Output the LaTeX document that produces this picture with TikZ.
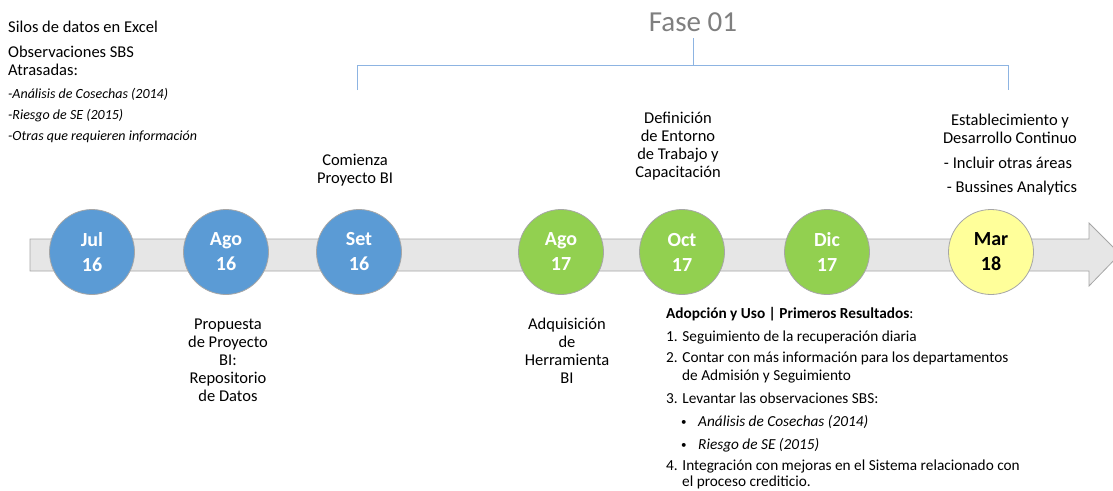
\documentclass[tikz,border=0pt]{standalone}
\usepackage{fontspec}
\setmainfont{Carlito}
\usepackage{xcolor}

\definecolor{blueC}{HTML}{5B9BD5}
\definecolor{greenC}{HTML}{92D050}
\definecolor{yellowC}{HTML}{FFFF9A}
\definecolor{bandC}{HTML}{E6E6E6}
\definecolor{lineC}{HTML}{A6A6A6}
\definecolor{phaseC}{HTML}{7F7F7F}
\definecolor{braceC}{HTML}{8DB4E2}

\tikzset{
    datecirc/.style={circle, draw=lineC, line width=0.8pt, minimum size=85pt,
        inner sep=0pt, align=center, font=\fontsize{20}{25}\selectfont\bfseries, text=white},
    lbl/.style={align=center, inner sep=0pt, font=\fontsize{16.5}{18}\selectfont},
    txt/.style={anchor=base west, inner sep=0pt, font=\fontsize{16.5}{18}\selectfont},
    sub/.style={anchor=base west, inner sep=0pt, font=\fontsize{14}{16}\selectfont\itshape},
    lst/.style={anchor=base west, inner sep=0pt, font=\fontsize{15.3}{17}\selectfont},
    dot/.style={anchor=base west, inner sep=0pt, font=\fontsize{11}{17}\selectfont},
    bracket/.style={draw=braceC, line width=0.9pt}
}

\begin{document}
\begin{tikzpicture}[x=1pt, y=-1pt]
    \useasboundingbox (0,0) rectangle (1113,490);

    % Timeline band
    \draw[fill=bandC, draw=lineC, line width=0.8pt]
        (30,239) -- (1089,239) -- (1089,223) -- (1120,254)
        -- (1089,286) -- (1089,271) -- (30,271) -- cycle;

    % Dates
    \node[datecirc, fill=blueC] (jul16) at (92,252) {Jul\\16};
    \node[datecirc, fill=blueC] (ago16) at (226,252) {Ago\\16};
    \node[datecirc, fill=blueC] (set16) at (359,252) {Set\\16};
    \node[datecirc, fill=greenC] (ago17) at (561,252) {Ago\\17};
    \node[datecirc, fill=greenC] (oct17) at (682,252) {Oct\\17};
    \node[datecirc, fill=greenC] (dic17) at (827,252) {Dic\\17};
    \node[datecirc, fill=yellowC, text=black] (mar18) at (991,252) {Mar\\18};

    % Starting point
    \node[txt] (silos) at (8,32) {Silos de datos en Excel};
    \node[txt] (obs) at (8,57) {Observaciones SBS};
    \node[txt] (atras) at (8,75) {Atrasadas:};
    \node[sub] (cosechas) at (8,98) {-Análisis de Cosechas (2014)};
    \node[sub] (riesgo) at (8,119) {-Riesgo de SE (2015)};
    \node[sub] (otras) at (8,140) {-Otras que requieren información};

    % Phase bracket
    \node[font=\fontsize{29}{32}\selectfont, text=phaseC, anchor=base] (fase) at (693,31) {Fase 01};
    \coordinate (ftop) at (693,38);
    \coordinate (fmid) at (693,65);
    \coordinate (lend) at (357,90);
    \coordinate (lcor) at (357,65);
    \coordinate (rcor) at (1008,65);
    \coordinate (rend) at (1008,90);
    \draw[bracket] (lend) -- (lcor) -- (rcor) -- (rend);
    \draw[bracket] (fmid) -- (ftop);

    % Milestones above
    \node[lbl] (comienza) at (355,170) {Comienza\\Proyecto BI};
    \node[lbl] (definicion) at (678,146) {Definición\\de Entorno\\de Trabajo y\\Capacitación};
    \node[lbl] (establec) at (1010,129) {Establecimiento y\\Desarrollo Continuo};
    \node[lbl] (incluir) at (1008,163) {- Incluir otras áreas};
    \node[lbl] (analytics) at (1012,188) {- Bussines Analytics};

    % Milestones below
    \node[lbl] (propuesta) at (228,360) {Propuesta\\de Proyecto\\BI:\\Repositorio\\de Datos};
    \node[lbl] (adquisicion) at (567,351) {Adquisición\\de\\Herramienta\\BI};

    % Results
    \node[lst] (adop) at (666,318) {\textbf{Adopción y Uso | Primeros Resultados}:};
    \node[lst] (res1) at (666,341) {1. Seguimiento de la recuperación diaria};
    \node[lst] (res2) at (666,362) {2. Contar con más información para los departamentos};
    \node[lst] (res2b) at (682,380) {de Admisión y Seguimiento};
    \node[lst] (res3) at (666,403) {3. Levantar las observaciones SBS:};
    \node[dot] (dot1) at (681,425) {•};
    \node[lst, font=\fontsize{15.3}{17}\selectfont\itshape] (res3a) at (698,426) {Análisis de Cosechas (2014)};
    \node[dot] (dot2) at (681,448) {•};
    \node[lst, font=\fontsize{15.3}{17}\selectfont\itshape] (res3b) at (698,449) {Riesgo de SE (2015)};
    \node[lst] (res4) at (666,470) {4. Integración con mejoras en el Sistema relacionado con};
    \node[lst] (res4b) at (682,486) {el proceso crediticio.};
\end{tikzpicture}
\end{document}
